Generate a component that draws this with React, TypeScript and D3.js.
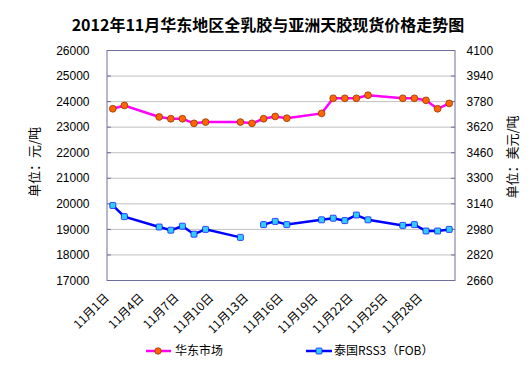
import React from "react";
import * as d3 from "d3";

const title = "2012年11月华东地区全乳胶与亚洲天胶现货价格走势图";
const allDays = d3.range(1, 31);
const days = [1, 2, 5, 6, 7, 8, 9, 12, 13, 14, 15, 16, 19, 20, 21, 22, 23, 26, 27, 28, 29, 30];
const eastChina = [23720, 23850, 23400, 23330, 23330, 23150, 23200, 23200, 23150, 23330, 23420, 23350,
  23540, 24130, 24130, 24130, 24250, 24130, 24130, 24050, 23720, 23930];
const rss3: (number | null)[] = [3130, 3060, 2995, 2975, 3000, 2950, 2980, 2930, null, 3010, 3030, 3010,
  3040, 3050, 3035, 3070, 3040, 3005, 3010, 2970, 2970, 2980];
const leftTicks = [17000, 18000, 19000, 20000, 21000, 22000, 23000, 24000, 25000, 26000];
const rightTicks = [2660, 2820, 2980, 3140, 3300, 3460, 3620, 3780, 3940, 4100];
const xLabelDays = [1, 4, 7, 10, 13, 16, 19, 22, 25, 28];
const seriesNames = ["华东市场", "泰国RSS3（FOB）"];
const leftTitle = "单位：元/吨";
const rightTitle = "单位：美元/吨";

const W = 528, H = 383;
const L = 107, R = 455, T = 50.5, B = 280.5;
const axisColor = "#6E6E9E";
const cjk = "'Noto Sans CJK SC', sans-serif";
const num = "'Liberation Sans', Arial, sans-serif";

export default function App() {
  const x = d3.scaleBand<number>().domain(allDays).range([L, R]);
  const cx = (d: number) => (x(d) as number) + x.bandwidth() / 2;
  const yL = d3.scaleLinear().domain([17000, 26000]).range([B, T]);
  const yR = d3.scaleLinear().domain([2660, 4100]).range([B, T]);

  const eastData = days.map((d, i) => ({ d, v: eastChina[i] as number | null }));
  const rssData = days.map((d, i) => ({ d, v: rss3[i] }));

  const lineE = d3.line<{ d: number; v: number | null }>()
    .defined((p) => p.v != null)
    .x((p) => cx(p.d))
    .y((p) => yL(p.v as number));
  const lineR = d3.line<{ d: number; v: number | null }>()
    .defined((p) => p.v != null)
    .x((p) => cx(p.d))
    .y((p) => yR(p.v as number));

  return (
    <svg width={W} height={H} style={{ position: "absolute", left: 0, top: 0, background: "#fff" }}>
      <text x={268} y={31} textAnchor="middle" fontFamily={cjk} fontWeight="bold" fontSize={16} fill="#000">
        {title}
      </text>

      {/* gridlines */}
      {leftTicks.slice(1, -1).map((t) => (
        <line key={t} x1={L} x2={R} y1={yL(t)} y2={yL(t)} stroke="#C0C0C0" strokeWidth={1} />
      ))}
      {/* plot border */}
      <rect x={L} y={T} width={R - L} height={B - T} fill="none" stroke={axisColor} strokeWidth={1} />
      {/* ticks */}
      {leftTicks.map((t) => (
        <line key={"lt" + t} x1={L} x2={L + 4} y1={yL(t)} y2={yL(t)} stroke={axisColor} />
      ))}
      {rightTicks.map((t) => (
        <line key={"rt" + t} x1={R - 4} x2={R} y1={yR(t)} y2={yR(t)} stroke={axisColor} />
      ))}

      {/* left tick labels */}
      {leftTicks.map((t) => (
        <text key={"ll" + t} x={89.5} y={yL(t)} dy="0.35em" textAnchor="end" fontFamily={num} fontSize={12} fill="#000">
          {t}
        </text>
      ))}
      {rightTicks.map((t) => (
        <text key={"rl" + t} x={466.5} y={yR(t)} dy="0.35em" textAnchor="start" fontFamily={num} fontSize={12} fill="#000">
          {t}
        </text>
      ))}

      {/* axis titles */}
      <text transform={`translate(34,162) rotate(-90)`} textAnchor="middle" dy="0.35em" fontFamily={cjk} fontSize={13} fill="#000">
        {leftTitle}
      </text>
      <text transform={`translate(512,157) rotate(-90)`} textAnchor="middle" dy="0.35em" fontFamily={cjk} fontSize={13} fill="#000">
        {rightTitle}
      </text>

      {/* x labels */}
      {xLabelDays.map((d) => (
        <text key={"xl" + d} transform={`translate(${cx(d) - 6},${B + 15}) rotate(-45)`} textAnchor="end" dy="0.35em"
          fontFamily={cjk} fontSize={12} fill="#000">
          {`11月${d}日`}
        </text>
      ))}

      {/* series */}
      <path d={lineE(eastData) || ""} fill="none" stroke="#FF00FF" strokeWidth={2.5} />
      <path d={lineR(rssData) || ""} fill="none" stroke="#0000FF" strokeWidth={2.5} />
      {eastData.map((p) => (
        <circle key={"e" + p.d} cx={cx(p.d)} cy={yL(p.v as number)} r={3.4} fill="#FF6600" stroke="#993300" strokeWidth={0.8} />
      ))}
      {rssData.filter((p) => p.v != null).map((p) => (
        <rect key={"r" + p.d} x={cx(p.d) - 3} y={yR(p.v as number) - 3} width={6} height={6} rx={1}
          fill="#33CCFF" stroke="#0000FF" strokeWidth={0.7} />
      ))}

      {/* legend */}
      <line x1={146} x2={171} y1={351} y2={351} stroke="#FF00FF" strokeWidth={2.5} />
      <circle cx={158} cy={351} r={3.2} fill="#FF6600" stroke="#993300" strokeWidth={0.8} />
      <text x={175} y={351} dy="0.35em" fontFamily={cjk} fontSize={12} fill="#000">{seriesNames[0]}</text>
      <line x1={306} x2={332} y1={351} y2={351} stroke="#0000FF" strokeWidth={2.5} />
      <rect x={316} y={348} width={6} height={6} rx={1} fill="#33CCFF" stroke="#0000FF" strokeWidth={0.7} />
      <text x={334} y={351} dy="0.35em" fontFamily={cjk} fontSize={12} fill="#000">{seriesNames[1]}</text>
    </svg>
  );
}
